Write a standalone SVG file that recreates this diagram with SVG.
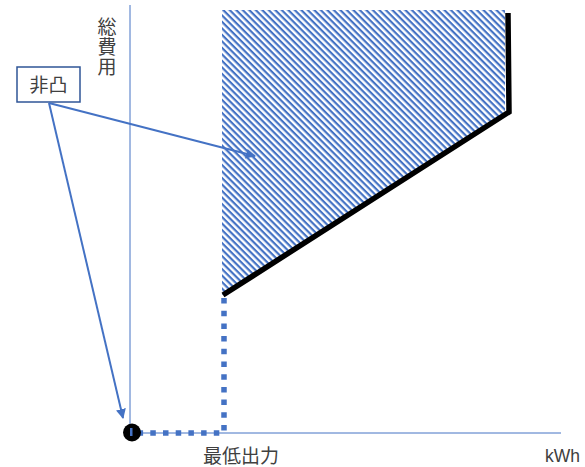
<svg xmlns="http://www.w3.org/2000/svg" width="585" height="467" viewBox="0 0 585 467">
<style>
.axis{stroke:#4472C4;stroke-width:1;fill:none}
.txt{font-family:"Noto Sans CJK JP","Noto Sans CJK SC",sans-serif;fill:#404040}
.arrow{stroke:#4472C4;stroke-width:2;fill:none;marker-end:url(#ah)}
.dots{stroke:#4472C4;stroke-width:5.5;fill:none;stroke-dasharray:5.5 7.2}
.thick{stroke:#000;stroke-width:5.5;fill:none}
</style>
<defs>
<pattern id="hatch" patternUnits="userSpaceOnUse" width="8" height="4.6" patternTransform="rotate(45)">
<rect x="0" y="0" width="8" height="2.2" fill="#4472C4"/>
</pattern>
<marker id="ah" viewBox="0 0 10 10" refX="9" refY="5" markerWidth="5" markerHeight="5" orient="auto" markerUnits="strokeWidth">
<path d="M0,0 L10,5 L0,10 Z" fill="#4472C4"/>
</marker>
</defs>
<g id="axes">
<line class="axis" x1="130" y1="5" x2="130" y2="433"/>
<line class="axis" x1="130" y1="433" x2="561" y2="433"/>
</g>
<g id="region">
<polygon points="222,10 505,10 505,112 222,295" fill="url(#hatch)"/>
<polyline class="thick" points="223,295 509,112 508,13"/>
</g>
<g id="minpath">
<polyline class="dots" points="224,298 224,433 139,433"/>
<circle cx="132" cy="432.5" r="9" fill="#000"/>
<rect x="130" y="428" width="2.5" height="8" fill="#4472C4"/>
</g>
<g id="label-nonconvex">
<rect x="17" y="67" width="63" height="35" fill="#fff" stroke="#2F5597" stroke-width="1.5"/>
<text class="txt" x="48.5" y="91.5" font-size="19" text-anchor="middle">非凸</text>
</g>
<g id="connectors">
<line class="arrow" x1="49" y1="103" x2="255" y2="156"/>
<line class="arrow" x1="49" y1="103" x2="123" y2="418"/>
</g>
<g id="labels">
<text class="txt" x="107" y="17" font-size="19" letter-spacing="1" writing-mode="vertical-rl">総費用</text>
<text class="txt" x="203" y="463" font-size="19">最低出力</text>
<text x="545" y="462" font-size="17.5" font-family="'Liberation Sans',Arial,sans-serif" fill="#404040">kWh</text>
</g>
</svg>
